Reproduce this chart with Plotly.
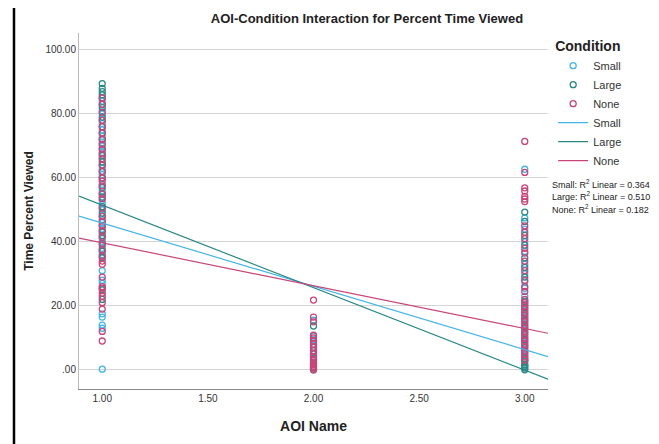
import plotly.graph_objects as go

# ---------------- data ----------------
conditions = ["Small", "Large", "None"]
aoi_values = [1, 2, 3]

aoi_tick_vals = [1.0, 1.5, 2.0, 2.5, 3.0]
aoi_tick_labels = ["1.00", "1.50", "2.00", "2.50", "3.00"]
pct_tick_vals = [0, 20, 40, 60, 80, 100]
pct_tick_labels = [".00", "20.00", "40.00", "60.00", "80.00", "100.00"]

small_aoi1 = [0.2, 13, 14, 16.5, 17.5, 27, 28, 31, 36, 38, 40, 41, 44, 46, 47, 50,
              52, 53, 56, 58, 61, 63, 66, 68, 70, 71, 73, 75, 77, 80, 81, 84]
small_aoi2 = [15.5, 10.5, 9.5, 8, 6, 4, 3, 1, 0.3]
small_aoi3 = [62.7, 47.5, 44, 40, 37, 33, 30, 27.5, 25.5, 23, 20.5, 18.5, 16.5,
              14.5, 12.5, 10.5, 8.5, 6.5, 4.5, 3, 1.5]

large_aoi1 = [22, 25, 35, 37, 39, 42, 43, 45, 48, 49, 51, 54, 55, 57, 60, 62, 64,
              65, 67, 69, 72, 74, 76, 78, 79, 82, 83, 85, 86, 87, 88, 89.5]
large_aoi2 = [13.7, 9, 7, 5, 3.5, 2, 0.8, 0]
large_aoi3 = [49.3, 46.4, 42, 39, 35, 32, 29, 21.5, 19.5, 17.5, 15.5, 13.5, 11.5,
              9.5, 7.5, 5.5, 3.5, 2.5, 1.5, 1, 0.5, 0]

none_aoi1 = [9, 12, 19, 21, 23, 24, 25.5, 26, 29, 33, 34, 35.5, 37.5, 39.5, 41.5,
             43.5, 45, 46.5, 48, 50.5, 53.5, 55, 57.5, 59, 60, 62, 64, 66, 67.5, 69,
             70.5, 72, 74, 76, 78, 80.5, 83, 85]
none_aoi2 = [21.8, 16.5, 15, 10.8, 10, 9, 8, 7, 6, 5, 4, 3, 2.5, 2, 1.5, 1, 0.5, 0]
none_aoi3 = [71.4, 61.7, 56.9, 55.9, 54.2, 53.4, 52.6, 45, 43, 41, 38, 36.5, 34,
             31, 28, 26, 24.5, 22, 21, 20, 19, 18, 17, 16, 15, 14, 13, 12, 11, 10,
             9, 8, 7, 6, 5, 4, 3]

# linear fit lines (intercept, slope) and R^2 as shown on the chart
fit_intercepts = [65.7, 77.3, 53.1]
fit_slopes = [-19.8, -25.8, -13.4]
r2_values = [0.364, 0.510, 0.182]

x_range = [0.89, 3.11]
y_range = [-6.0, 105.3]

# ---------------- styling ----------------
colors = ["#45b4e6", "#2a8884", "#c8457a"]
font_family = "Arial, 'Liberation Sans', sans-serif"

points = [
    (small_aoi1, small_aoi2, small_aoi3),
    (large_aoi1, large_aoi2, large_aoi3),
    (none_aoi1, none_aoi2, none_aoi3),
]

fig = go.Figure()

for name, color, groups in zip(conditions, colors, points):
    xs, ys = [], []
    for aoi, vals in zip(aoi_values, groups):
        xs += [aoi] * len(vals)
        ys += vals
    fig.add_trace(go.Scatter(
        x=xs, y=ys, mode="markers", name=name,
        marker=dict(symbol="circle-open", size=6, color=color,
                    line=dict(width=1.3, color=color)),
        hoverinfo="x+y+name",
    ))

for name, color, a, b in zip(conditions, colors, fit_intercepts, fit_slopes):
    fig.add_trace(go.Scatter(
        x=x_range, y=[a + b * x for x in x_range], mode="lines", name=name,
        line=dict(color=color, width=1.2),
    ))

# R^2 annotations
r2_text_y0 = 0.575
for i, (name, r2) in enumerate(zip(conditions, r2_values)):
    fig.add_annotation(
        xref="paper", yref="paper", x=1.004, y=r2_text_y0 - i * 0.034,
        xanchor="left", yanchor="middle", showarrow=False,
        text=f"{name}: R<sup>2</sup> Linear = {r2:.3f}",
        font=dict(size=9, color="#222", family=font_family),
    )

# outer frame
fig.add_shape(type="rect", xref="paper", yref="paper",
              x0=-0.1386, x1=1.228, y0=-0.3, y1=1.2,
              line=dict(color="black", width=2.5), fillcolor="rgba(0,0,0,0)")

fig.update_layout(
    width=651, height=436,
    margin=dict(l=71, r=111, t=25, b=51),
    paper_bgcolor="white", plot_bgcolor="white",
    font=dict(family=font_family, color="#222"),
    title=dict(text="<b>AOI-Condition Interaction for Percent Time Viewed</b>",
               x=0.614, xref="paper", xanchor="center",
               y=0.977, yref="container", yanchor="middle",
               font=dict(size=13, color="#222")),
    showlegend=True,
    legend=dict(
        title=dict(text="<b>Condition</b>", font=dict(size=14, color="#222")),
        x=1.011, xanchor="left", y=1.0, yanchor="top",
        font=dict(size=11, color="#333"),
        bgcolor="rgba(0,0,0,0)", tracegroupgap=0,
    ),
    xaxis=dict(
        range=x_range, tickvals=aoi_tick_vals, ticktext=aoi_tick_labels,
        showgrid=False, zeroline=False, showline=True, linecolor="#888",
        linewidth=1, ticks="", tickfont=dict(size=10, color="#333"),
        title=dict(text="<b>AOI Name</b>", font=dict(size=14, color="#222"),
                   standoff=18),
    ),
    yaxis=dict(
        range=y_range, tickvals=pct_tick_vals, ticktext=pct_tick_labels,
        showgrid=True, gridcolor="#d4d4d4", gridwidth=1, zeroline=False,
        showline=True, linecolor="#bbb", linewidth=1, ticks="",
        tickfont=dict(size=10, color="#333"),
        title=dict(text="<b>Time Percent Viewed</b>", font=dict(size=12, color="#222"),
                   standoff=9),
    ),
)

fig.write_html("out.html")
